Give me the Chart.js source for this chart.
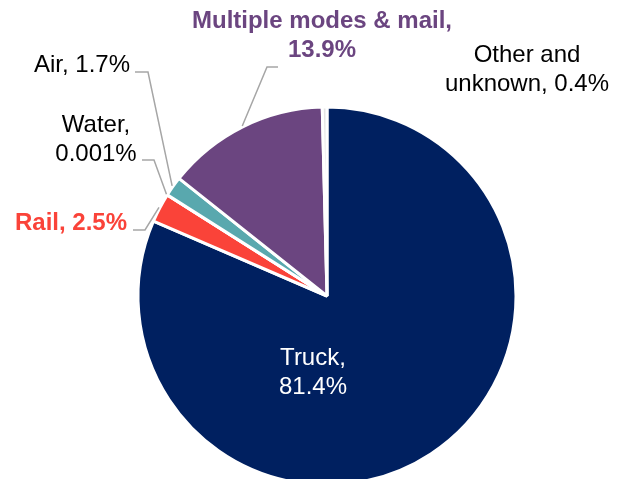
<!DOCTYPE html>
<html>
<head>
<meta charset="utf-8">
<script src="https://cdn.jsdelivr.net/npm/chart.js@4.4.1/dist/chart.umd.min.js"></script>
<style>
  html, body { margin: 0; padding: 0; background: #fff; overflow: hidden; }
  #wrap { width: 625px; height: 479px; overflow: hidden; position: relative; }
</style>
</head>
<body>
<div id="wrap"><canvas id="pie" width="625" height="592"></canvas></div>
<script>
// freight mode shares (clockwise from 12 o'clock)
const categories = ['Truck', 'Rail', 'Water', 'Air', 'Multiple modes & mail', 'Other and unknown'];
const shares = [81.4, 2.5, 0.001, 1.7, 13.9, 0.4];
const labelLines = [
  ['Truck,', '81.4%'],
  ['Rail, 2.5%'],
  ['Water,', '0.001%'],
  ['Air, 1.7%'],
  ['Multiple modes & mail,', '13.9%'],
  ['Other and', 'unknown, 0.4%']
];
const sliceColors = ['#002060', '#fa4339', '#4f81bd', '#59a8ae', '#6b4580', '#e4e4e4'];

// where each label sits (first baseline) + its leader line
const labelLayout = [
  { x: 313, y: 365, align: 'center', color: '#ffffff', bold: false },
  { x: 127, y: 230, align: 'right', color: '#fa4339', bold: true, leader: { x0: 133, x1: 145, y: 230 } },
  { x: 96, y: 132, align: 'center', color: '#000000', bold: false, leader: { x0: 142, x1: 154, y: 160 } },
  { x: 130, y: 72, align: 'right', color: '#000000', bold: false, leader: { x0: 135, x1: 148, y: 72 } },
  { x: 322, y: 28, align: 'center', color: '#6b4580', bold: true, leader: { x0: 278, x1: 267, y: 67 } },
  { x: 527, y: 62, align: 'center', color: '#000000', bold: false }
];
const FONT = '"Liberation Sans", Arial, sans-serif';
const LINE_H = 28.5;

const pieLabels = {
  id: 'pieLabels',
  afterDatasetsDraw(chart) {
    const ctx = chart.ctx;
    const arcs = chart.getDatasetMeta(0).data;
    ctx.save();
    labelLayout.forEach((lay, i) => {
      // leader line from slice edge
      if (lay.leader) {
        const a = arcs[i].getProps(['x', 'y', 'startAngle', 'endAngle', 'outerRadius'], true);
        const mid = (a.startAngle + a.endAngle) / 2;
        const px = a.x + Math.cos(mid) * (a.outerRadius + 1);
        const py = a.y + Math.sin(mid) * (a.outerRadius + 1);
        ctx.beginPath();
        ctx.strokeStyle = '#a6a6a6';
        ctx.lineWidth = 1.5;
        ctx.moveTo(lay.leader.x0, lay.leader.y);
        ctx.lineTo(lay.leader.x1, lay.leader.y);
        ctx.lineTo(px, py);
        ctx.stroke();
      }
      ctx.font = (lay.bold ? 'bold ' : '') + '24px ' + FONT;
      ctx.fillStyle = lay.color;
      ctx.textAlign = lay.align;
      ctx.textBaseline = 'alphabetic';
      labelLines[i].forEach((t, j) => {
        ctx.fillText(t, lay.x, lay.y + j * LINE_H);
      });
    });
    ctx.restore();
  }
};

const chart = new Chart(document.getElementById('pie'), {
  type: 'pie',
  data: {
    labels: categories,
    datasets: [{
      data: shares,
      backgroundColor: sliceColors,
      borderColor: '#ffffff',
      borderWidth: 3,
      radius: 189
    }]
  },
  options: {
    responsive: false,
    devicePixelRatio: 1,
    animation: false,
    events: [],
    layout: { padding: { left: 29, right: 0, top: 0, bottom: 0 } },
    plugins: {
      legend: { display: false },
      tooltip: { enabled: false }
    }
  },
  plugins: [pieLabels]
});
</script>
</body>
</html>
